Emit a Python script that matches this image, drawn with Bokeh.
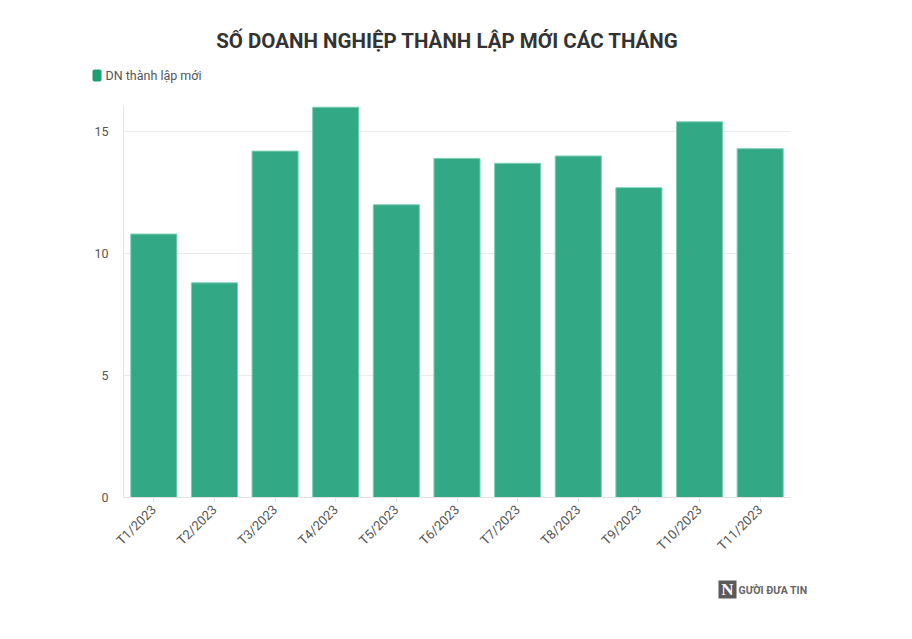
from math import pi
from bokeh.plotting import figure
from bokeh.layouts import column
from bokeh.models import Label, BoxAnnotation, Range1d
from bokeh.embed import file_html
from bokeh.resources import INLINE

months = ["T1/2023", "T2/2023", "T3/2023", "T4/2023", "T5/2023", "T6/2023",
          "T7/2023", "T8/2023", "T9/2023", "T10/2023", "T11/2023"]
values = [10.8, 8.8, 14.2, 16.0, 12.0, 13.9, 13.7, 14.0, 12.7, 15.4, 14.3]
y_ticks = [0, 5, 10, 15]
title_text = "SỐ DOANH NGHIỆP THÀNH LẬP MỚI CÁC THÁNG"
legend_text = "DN thành lập mới"
logo_text = "GƯỜI ĐƯA TIN"
FONT = "Roboto"
W = 912


def blank(h):
    f = figure(width=W, height=h, x_range=Range1d(0, W), y_range=Range1d(0, h),
               x_axis_type=None, y_axis_type=None, output_backend="svg",
               toolbar_location=None, min_border=0,
               min_border_left=0, min_border_right=0, min_border_top=0, min_border_bottom=0,
               frame_align=False)
    f.outline_line_color = None
    f.xgrid.visible = False
    f.ygrid.visible = False
    return f


# ---- header (title + legend), 105 px, y measured upward from its bottom
top = blank(105)
top.add_layout(Label(x=447, y=65, text=title_text, text_font=FONT, text_font_style="bold",
                     text_font_size="20.5px", text_color="#333333",
                     text_align="center", text_baseline="middle"))
top.add_layout(BoxAnnotation(left=92, right=101, bottom=24, top=36,
                             fill_color="#1f9e74", fill_alpha=1.0, line_color=None,
                             border_radius=2))
top.add_layout(Label(x=105, y=30, text=legend_text, text_font=FONT, text_font_size="12.5px",
                     text_color="#555555", text_baseline="middle"))

# ---- main chart
p = figure(x_range=months, y_range=Range1d(0, 16.07), width=W, height=460,
           output_backend="svg", toolbar_location=None,
           min_border_left=123, min_border_right=122, min_border_top=0, min_border_bottom=68)
p.outline_line_color = None

p.vbar(x=months, top=values, width=0.76, fill_color="#32a884", line_color="#7ccfb2", line_width=1)

p.xgrid.grid_line_color = None
p.ygrid.grid_line_color = "#ebebeb"
p.ygrid.ticker = y_ticks
p.yaxis.ticker = y_ticks
p.yaxis.axis_line_color = "#e3e3e3"
p.yaxis.major_tick_line_color = None
p.yaxis.minor_tick_line_color = None
p.yaxis.major_label_text_font = FONT
p.yaxis.major_label_text_font_size = "12.5px"
p.yaxis.major_label_text_color = "#555555"
p.yaxis.major_label_standoff = 9

p.xaxis.axis_line_color = "#e3e3e3"
p.xaxis.major_tick_line_color = "#e3e3e3"
p.xaxis.major_tick_in = 0
p.xaxis.major_tick_out = 5
p.xaxis.major_label_orientation = pi / 4
p.xaxis.major_label_text_font = FONT
p.xaxis.major_label_text_font_size = "13px"
p.xaxis.major_label_text_color = "#555555"
p.xaxis.major_label_standoff = 5

# ---- footer (logo), 74 px
bot = blank(74)
bot.add_layout(BoxAnnotation(left=718, right=736, bottom=41, top=59,
                             fill_color="#5a5a5a", fill_alpha=1.0, line_color=None))
bot.add_layout(Label(x=727, y=50, text="N", text_font="Liberation Serif", text_font_style="bold",
                     text_font_size="17px", text_color="white",
                     text_align="center", text_baseline="middle"))
bot.add_layout(Label(x=738, y=49, text=logo_text, text_font=FONT, text_font_style="bold",
                     text_font_size="10.5px", text_color="#666666", text_baseline="middle"))

layout = column(top, p, bot, spacing=0)
open("out.html", "w").write(file_html(layout, INLINE))
